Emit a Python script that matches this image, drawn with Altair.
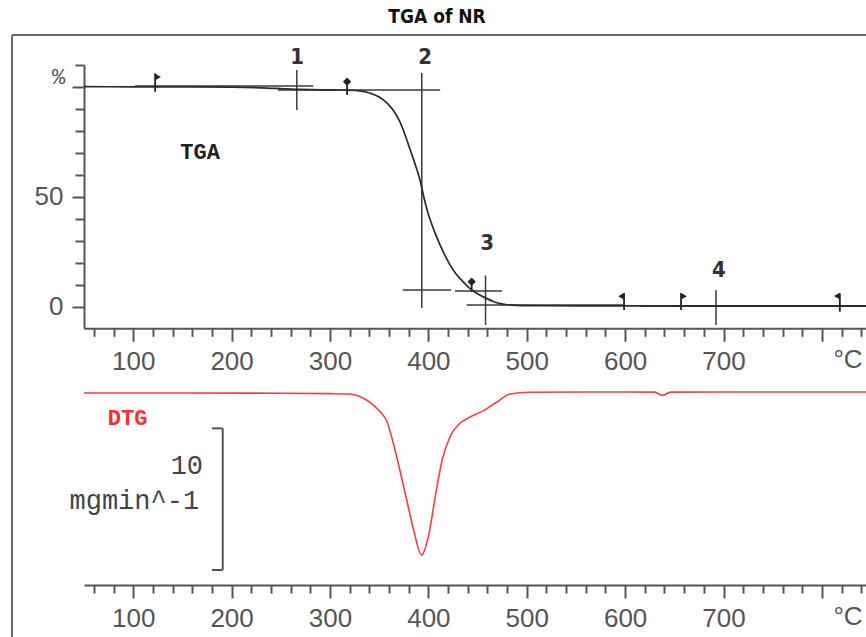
import altair as alt
import pandas as pd

# ---------------- data ----------------
tga_temp = [50, 100, 150, 200, 230, 260, 290, 310, 330, 341, 350, 358, 365, 371, 376,
            381, 386, 391, 396, 400, 404, 408, 412, 417, 422, 428, 435, 443, 450, 459,
            466, 473, 480, 490, 500, 550, 600, 700, 845]
tga_mass = [100.0, 99.95, 99.9, 99.8, 99.5, 98.9, 98.6, 98.5, 98.1, 97.0, 95.3, 92.5, 88.8, 84.1, 78.5,
            72.0, 65.5, 58.4, 48.7, 42.0, 36.8, 32.2, 28.0, 23.2, 19.0, 15.0, 11.5, 8.0, 5.9, 3.8,
            2.4, 1.4, 0.9, 0.6, 0.5, 0.4, 0.35, 0.3, 0.25]

dtg_temp = [50, 150, 250, 300, 320, 331, 341, 351, 358, 364, 371, 378, 385, 393, 400,
            407, 414, 422, 432, 442, 456, 470, 483, 503, 560, 630, 638, 646, 700, 845]
dtg_rate = [-0.03, -0.03, -0.05, -0.08, -0.1, -0.3, -0.72, -1.35, -2.06, -3.47, -5.47, -7.59, -9.70, -11.47, -10.18,
            -7.35, -4.76, -3.12, -2.17, -1.75, -1.28, -0.65, -0.1, 0.02, 0.04, 0.03, -0.2, 0.03, 0.04, 0.04]

# axis ticks
x_major = [100, 200, 300, 400, 500, 600, 700, 800]
x_minor = [60, 80, 120, 140, 160, 180, 220, 240, 260, 280, 320, 340, 360, 380,
           420, 440, 460, 480, 520, 540, 560, 580, 620, 640, 660, 680, 720, 740,
           760, 780, 820, 840]
y_major = [0, 50, 100]
y_minor = [10, 20, 30, 40, 60, 70, 80, 90, 110]

# step evaluation lines (temperature / mass %)
seg_x1 = [102, 247, 374, 427, 439, 615, 266.3, 393.3, 458.1, 692.4]
seg_x2 = [283, 412, 423, 475, 600, 845, 266.3, 393.3, 458.1, 692.4]
seg_y1 = [100.3, 98.5, 7.6, 7.2, 0.8, 0.4, 107.6, 106.2, 14.2, 7.6]
seg_y2 = [100.3, 98.5, 7.6, 7.2, 0.8, 0.4, 89.4, -0.6, -8.3, -8.3]

# step numbers
step_text = ["1", "2", "3", "4"]
step_T = [266.6, 396.6, 459.7, 695.4]
step_m = [113.5, 113.5, 29.0, 16.7]

# limit markers (flags and diamonds)
flag_T = [122.3, 598.9, 656.8, 818.2]
flag_dir = ["right", "left", "right", "left"]
flag_top = [106.1, 6.2, 6.2, 6.1]
flag_bottom = [97.7, -1.5, -1.5, -2.3]
flag_head = [104.4, 4.8, 4.8, 4.9]
diam_T = [317.4, 444.0]
diam_top = [102.3, 11.4]
diam_bottom = [96.2, 6.7]

# DTG scale bar (10 mg/min)
bar_T = 191.0
bar_tick_T = 180.0
bar_top = -2.53
bar_bottom = -12.53

# ---------------- scales / layout ----------------
W, H = 854, 602
xs = alt.Scale(domain=[50, 844.8], range=[72, 854], nice=False, zero=False)
ys_tga = alt.Scale(domain=[-9.8, 110], range=[293.3, 29.7], nice=False, zero=False)
ys_dtg = alt.Scale(domain=[-13.59, 1.45], range=[550, 337], nice=False, zero=False)

GREY = "#555555"
INK = "#2b2b2b"
SANS = "Liberation Sans"
NARROW = "Liberation Sans Narrow, DejaVu Sans Condensed, Liberation Sans"
MONO = "Liberation Mono"

axis_style = dict(title=None, grid=False, domainColor=GREY, domainWidth=2, tickColor=GREY,
                  tickWidth=2, labelColor=GREY, labelFont=SANS, labelFontSize=26,
                  labelFlush=False, labelOverlap=False, labelBound=False)

TOP_OFF = 293.3 - H
BOT_OFF = 550 - H
ax_top_major = alt.Axis(orient="bottom", offset=TOP_OFF, values=x_major, tickSize=13,
                        labelPadding=7, labelExpr="datum.value >= 800 ? '' : datum.label", **axis_style)
ax_top_minor = alt.Axis(orient="bottom", offset=TOP_OFF, values=x_minor, tickSize=8,
                        labels=False, domain=False, **axis_style)
ax_bot_major = alt.Axis(orient="bottom", offset=BOT_OFF, values=x_major, tickSize=13,
                        labelPadding=7, labelExpr="datum.value >= 800 ? '' : datum.label", **axis_style)
ax_bot_minor = alt.Axis(orient="bottom", offset=BOT_OFF, values=x_minor, tickSize=8,
                        labels=False, domain=False, **axis_style)
ax_y_major = alt.Axis(orient="left", offset=-72, values=y_major, tickSize=12, labelPadding=9,
                      labelExpr="datum.value == 100 ? '' : datum.label", **axis_style)
ax_y_minor = alt.Axis(orient="left", offset=-72, values=y_minor, tickSize=9,
                      labels=False, domain=False, **axis_style)


def xq(f):
    return alt.X(f"{f}:Q", scale=xs, axis=None)


def yt(f):
    return alt.Y(f"{f}:Q", scale=ys_tga, axis=None)


def yd(f):
    return alt.Y(f"{f}:Q", scale=ys_dtg, axis=None)


one = pd.DataFrame({"a": [0]})

# frame (top and left border of the instrument printout)
frame_top = alt.Chart(one).mark_rule(color="#6b6b6b", strokeWidth=2).encode(
    x=alt.value(0), x2=alt.value(W), y=alt.value(0))
frame_left = alt.Chart(one).mark_rule(color="#6b6b6b", strokeWidth=2).encode(
    x=alt.value(0), y=alt.value(0), y2=alt.value(H))

# TGA
tga_df = pd.DataFrame({"T": tga_temp, "m": tga_mass})
tga_line = alt.Chart(tga_df).mark_line(color=INK, strokeWidth=1.7, interpolate="monotone").encode(
    x=alt.X("T:Q", scale=xs, axis=ax_top_major),
    y=alt.Y("m:Q", scale=ys_tga, axis=ax_y_major))
tga_minor = alt.Chart(pd.DataFrame({"T": [400], "m": [50]})).mark_point(opacity=0).encode(
    x=alt.X("T:Q", scale=xs, axis=ax_top_minor),
    y=alt.Y("m:Q", scale=ys_tga, axis=ax_y_minor))

seg_df = pd.DataFrame({"x1": seg_x1, "x2": seg_x2, "y1": seg_y1, "y2": seg_y2})
segs = alt.Chart(seg_df).mark_rule(color="#3a3a3a", strokeWidth=1.5).encode(
    x=xq("x1"), x2="x2:Q", y=yt("y1"), y2="y2:Q")

flag_df = pd.DataFrame({"T": flag_T, "dir": flag_dir, "top": flag_top,
                        "bottom": flag_bottom, "head": flag_head})
flag_stems = alt.Chart(flag_df).mark_rule(color="#222", strokeWidth=1.8).encode(
    x=xq("T"), y=yt("top"), y2="bottom:Q")
flags_r = alt.Chart(flag_df).transform_filter("datum.dir == 'right'").mark_point(
    shape="triangle-right", filled=True, color="#222", size=42, opacity=1).encode(
    x=xq("T"), y=yt("head"), xOffset=alt.value(3))
flags_l = alt.Chart(flag_df).transform_filter("datum.dir == 'left'").mark_point(
    shape="triangle-left", filled=True, color="#222", size=42, opacity=1).encode(
    x=xq("T"), y=yt("head"), xOffset=alt.value(-3))

diam_df = pd.DataFrame({"T": diam_T, "top": diam_top, "bottom": diam_bottom})
diam_stems = alt.Chart(diam_df).mark_rule(color="#222", strokeWidth=1.8).encode(
    x=xq("T"), y=yt("top"), y2="bottom:Q")
diamonds = alt.Chart(diam_df).mark_point(shape="diamond", filled=True, color="#222",
                                         size=70, opacity=1).encode(x=xq("T"), y=yt("top"))

step_df = pd.DataFrame({"T": step_T, "m": step_m, "t": step_text})
step_labels = alt.Chart(step_df).mark_text(font=NARROW, fontSize=22, fontWeight="bold",
                                           color="#333").encode(x=xq("T"), y=yt("m"), text="t:N")

tga_name = alt.Chart(pd.DataFrame({"T": [168.0], "m": [70.3], "t": ["TGA"]})).mark_text(
    font=MONO, fontSize=22, fontWeight="bold", color="#222").encode(x=xq("T"), y=yt("m"), text="t:N")
pct_unit = alt.Chart(pd.DataFrame({"T": [24.2], "m": [104.4], "t": ["%"]})).mark_text(
    font=MONO, fontSize=22, color=GREY).encode(x=xq("T"), y=yt("m"), text="t:N")
degc_top = alt.Chart(pd.DataFrame({"T": [826.5], "m": [-24.2], "t": ["°C"]})).mark_text(
    font=SANS, fontSize=26, color=GREY).encode(x=xq("T"), y=yt("m"), text="t:N")

# DTG
dtg_df = pd.DataFrame({"T": dtg_temp, "r": dtg_rate})
dtg_line = alt.Chart(dtg_df).mark_line(color="#ff3b3b", strokeWidth=1.6, interpolate="monotone").encode(
    x=alt.X("T:Q", scale=xs, axis=ax_bot_major), y=yd("r"))
dtg_minor = alt.Chart(pd.DataFrame({"T": [400], "r": [0]})).mark_point(opacity=0).encode(
    x=alt.X("T:Q", scale=xs, axis=ax_bot_minor), y=yd("r"))

bar_df = pd.DataFrame({"x1": [bar_T, bar_tick_T, bar_tick_T], "x2": [bar_T, bar_T, bar_T],
                       "y1": [bar_top, bar_top, bar_bottom], "y2": [bar_bottom, bar_top, bar_bottom]})
bar = alt.Chart(bar_df).mark_rule(color=GREY, strokeWidth=2).encode(
    x=xq("x1"), x2="x2:Q", y=yd("y1"), y2="y2:Q")

dtg_name = alt.Chart(pd.DataFrame({"T": [94.3], "r": [-1.78], "t": ["DTG"]})).mark_text(
    font=MONO, fontSize=22, fontWeight="bold", color="#ff2a2a").encode(x=xq("T"), y=yd("r"), text="t:N")
bar_value = alt.Chart(pd.DataFrame({"T": [171.0], "r": [-5.17], "t": ["10"]})).mark_text(
    font=MONO, fontSize=27, color="#444", align="right").encode(x=xq("T"), y=yd("r"), text="t:N")
bar_unit = alt.Chart(pd.DataFrame({"T": [167.0], "r": [-7.66], "t": ["mgmin^-1"]})).mark_text(
    font=MONO, fontSize=27, color="#444", align="right").encode(x=xq("T"), y=yd("r"), text="t:N")
degc_bot = alt.Chart(pd.DataFrame({"T": [826.5], "r": [-15.84], "t": ["°C"]})).mark_text(
    font=SANS, fontSize=26, color=GREY).encode(x=xq("T"), y=yd("r"), text="t:N")

chart = alt.layer(
    frame_top, frame_left,
    segs, flag_stems, flags_r, flags_l, diam_stems, diamonds,
    tga_minor, tga_line, step_labels, tga_name, pct_unit, degc_top,
    dtg_minor, bar, dtg_line, dtg_name, bar_value, bar_unit, degc_bot,
).resolve_scale(x="independent", y="independent").resolve_axis(
    x="independent", y="independent"
).properties(
    width=W, height=H,
    title=alt.TitleParams(text="TGA of NR", font=NARROW, fontSize=19, fontWeight="bold",
                          color="#111", anchor="middle", frame="group", offset=7, dx=-2),
    autosize=alt.AutoSizeParams(type="none"),
    padding={"left": 12, "top": 35, "right": 0, "bottom": 0},
).configure_view(stroke=None).configure(background="white")

chart.save("out.html", embed_options={"renderer": "svg", "actions": False})
